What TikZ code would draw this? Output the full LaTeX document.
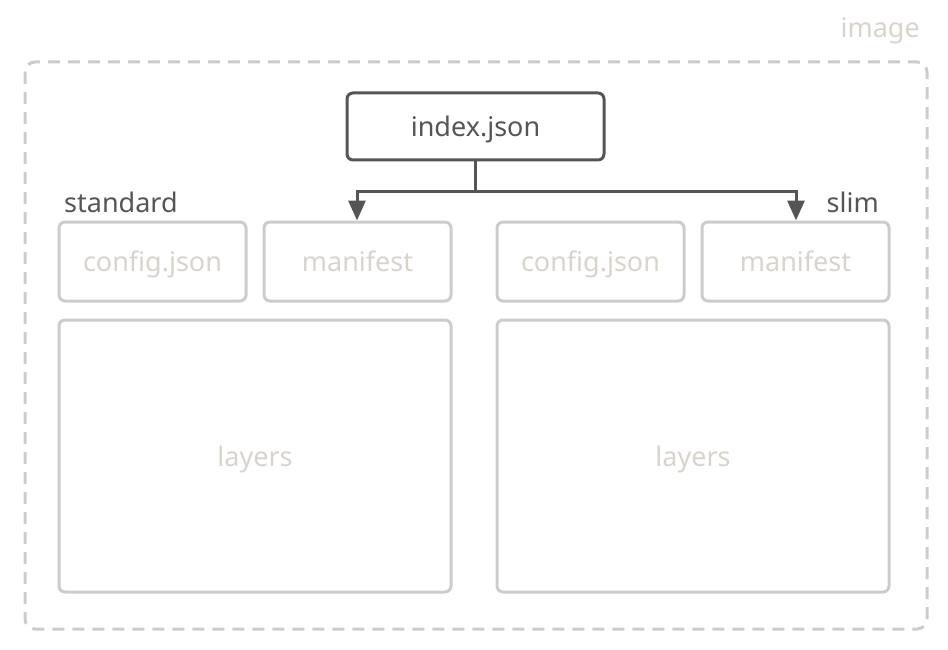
\documentclass[tikz,border=0pt]{standalone}
\usepackage{fontspec}
\setmainfont{Noto Sans}
\usetikzlibrary{arrows.meta}
\definecolor{dark}{HTML}{555555}
\definecolor{lite}{HTML}{CCCCCC}
\definecolor{ltxt}{HTML}{D8D3CB}
\tikzset{
  px/.style={x=1pt,y=-1pt},
  txt/.style={font=\fontsize{27}{32}\selectfont,text height=20pt,text depth=0pt},
  litebox/.style={txt,draw=lite,line width=3pt,rounded corners=6pt,text=ltxt},
  darkbox/.style={txt,draw=dark,line width=3pt,rounded corners=6pt,text=dark},
  lbl/.style={txt,text=dark,inner sep=0pt},
  conn/.style={draw=dark,line width=3pt,-{Triangle[length=20pt,width=17pt]}}
}
\begin{document}
\begin{tikzpicture}[px]
\useasboundingbox (0,0) rectangle (948,650);
\draw[lite,line width=3pt,dash pattern=on 12pt off 8pt,rounded corners=10pt] (25,62) rectangle (927,629);
\node[txt,text=ltxt,anchor=east,inner sep=0pt] (img) at (920,28) {image};
\node[darkbox,minimum width=257pt,minimum height=67pt] (idx) at (475.5,126.5) {index.json};
\node[lbl,anchor=west] (std) at (64,202) {standard};
\node[lbl,anchor=east] (slim) at (879,202) {slim};
\node[litebox,minimum width=187pt,minimum height=79pt] (c1) at (152.5,261.5) {config.json};
\node[litebox,minimum width=187pt,minimum height=79pt] (m1) at (357.5,261.5) {manifest};
\node[litebox,minimum width=187pt,minimum height=79pt] (c2) at (590.5,261.5) {config.json};
\node[litebox,minimum width=187pt,minimum height=79pt] (m2) at (795.5,261.5) {manifest};
\node[litebox,minimum width=392pt,minimum height=272pt] (l1) at (255,456) {layers};
\node[litebox,minimum width=392pt,minimum height=272pt] (l2) at (693,456) {layers};
\coordinate (j) at (475.5,191);
\draw[dark,line width=3pt] (idx.south) -- (j);
\draw[conn] (j) -| ([xshift=-0.5pt]m1.north);
\draw[conn] (j) -| ([xshift=0.5pt]m2.north);
\end{tikzpicture}
\end{document}
